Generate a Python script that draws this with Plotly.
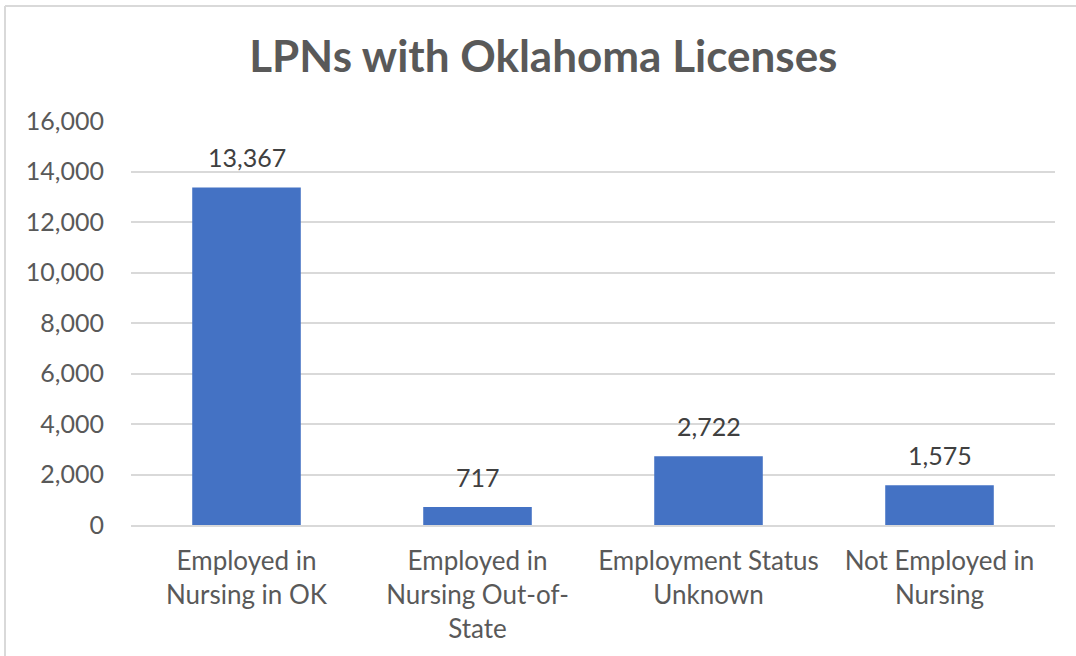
import plotly.graph_objects as go

categories = ["Employed in<br>Nursing in OK", "Employed in<br>Nursing Out-of-<br>State",
              "Employment Status<br>Unknown", "Not Employed in<br>Nursing"]
values = [13367, 717, 2722, 1575]
value_labels = ["13,367", "717", "2,722", "1,575"]
y_ticks = [0, 2000, 4000, 6000, 8000, 10000, 12000, 14000, 16000]

W, H = 1076, 656
L, R, T, B = 131, 21, 121, 131
pw, ph = W - L - R, H - T - B

def px_x(p):
    return (p - L) / pw

def px_y(p):
    return (H - B - p) / ph

FONT = "Lato"
GRAY = "#595959"

fig = go.Figure(go.Bar(
    x=categories, y=values, marker_color="#4472C4", marker_line_width=0,
    hoverinfo="skip",
))

for c, v, t in zip(categories, values, value_labels):
    fig.add_annotation(x=c, y=v, text=t, showarrow=False, yanchor="bottom",
                       yshift=13, font=dict(family=FONT, size=25, color="#404040"))

# chart frame (left and top edges visible; right/bottom are cut off in the reference)
fig.add_shape(type="line", xref="paper", yref="paper",
              x0=px_x(5), x1=px_x(5), y0=px_y(660), y1=px_y(6),
              line=dict(color="#D9D9D9", width=2), layer="below")
fig.add_shape(type="line", xref="paper", yref="paper",
              x0=px_x(5), x1=px_x(1080), y0=px_y(6), y1=px_y(6),
              line=dict(color="#D9D9D9", width=2), layer="below")

fig.update_layout(
    width=W, height=H,
    margin=dict(l=L, r=R, t=T, b=B),
    paper_bgcolor="white", plot_bgcolor="white",
    bargap=0.53,
    showlegend=False,
    title=dict(text="<b>LPNs with Oklahoma Licenses</b>", x=0.505, xanchor="center",
               y=1 - 57 / H, yanchor="middle",
               font=dict(family=FONT, size=44, color=GRAY)),
    font=dict(family=FONT, color=GRAY),
)
fig.update_yaxes(range=[0, 16000], tickvals=y_ticks, tickformat=",",
                 showgrid=True, gridcolor="#D9D9D9", gridwidth=1.5,
                 zeroline=False, showline=False,
                 tickfont=dict(family=FONT, size=25, color=GRAY),
                 ticklabelstandoff=26, fixedrange=True)
fig.update_xaxes(showline=True, linecolor="#D9D9D9", linewidth=1.5,
                 tickfont=dict(family=FONT, size=26, color=GRAY),
                 ticklabelstandoff=12, fixedrange=True)

fig.write_html("out.html", config={"displayModeBar": False},
               post_script="document.body.style.margin='0';document.body.style.overflow='hidden';")
